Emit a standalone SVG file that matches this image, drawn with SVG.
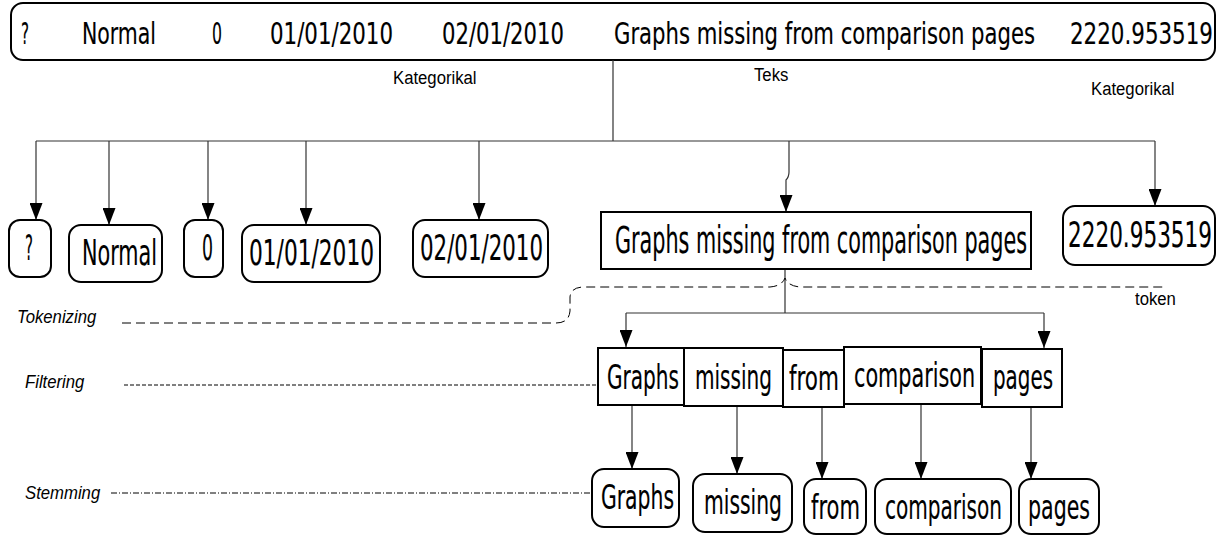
<svg xmlns="http://www.w3.org/2000/svg" width="1219" height="535" viewBox="0 0 1219 535">
<style>
.bx{fill:#fff;stroke:#000;stroke-width:2}
.t{font-family:"DejaVu Sans Condensed","DejaVu Sans",sans-serif;fill:#000;stroke:#000;stroke-width:0.15}
.lbl{font-family:"Liberation Sans",Arial,sans-serif;font-size:19px;fill:#000}
.it{font-style:italic}
.ln{fill:none;stroke:#333;stroke-width:1.2}
.ar{marker-end:url(#arr)}
.dash{fill:none;stroke:#000;stroke-width:1}
</style>
<defs>
<marker id="arr" markerUnits="userSpaceOnUse" markerWidth="17" markerHeight="13" refX="17" refY="6.5" orient="auto">
<path d="M0,0 L17,6.5 L0,13 z" fill="#000"/>
</marker>
</defs>
<rect width="1219" height="535" fill="#fff"/>

<g id="record">
<rect class="bx" x="11" y="3" width="1204" height="57" rx="12"/>
<g class="t" font-size="31">
<text transform="matrix(0.78 0 0 1 21 44)" textLength="10.3" lengthAdjust="spacingAndGlyphs">?</text>
<text transform="matrix(0.78 0 0 1 82 44)" textLength="94.9" lengthAdjust="spacingAndGlyphs">Normal</text>
<text transform="matrix(0.78 0 0 1 212 44)" textLength="12.8" lengthAdjust="spacingAndGlyphs">0</text>
<text transform="matrix(0.78 0 0 1 270 44)" textLength="157.7" lengthAdjust="spacingAndGlyphs">01/01/2010</text>
<text transform="matrix(0.78 0 0 1 442 44)" textLength="156.4" lengthAdjust="spacingAndGlyphs">02/01/2010</text>
<text transform="matrix(0.78 0 0 1 614 44)" textLength="539.7" lengthAdjust="spacingAndGlyphs">Graphs missing from comparison pages</text>
<text transform="matrix(0.78 0 0 1 1070 44)" textLength="183.3" lengthAdjust="spacingAndGlyphs">2220.953519</text>
</g>
</g>

<g id="labels">
<text class="lbl" transform="matrix(0.88 0 0 1 393 84)">Kategorikal</text>
<text class="lbl" transform="matrix(0.88 0 0 1 754 81)">Teks</text>
<text class="lbl" transform="matrix(0.88 0 0 1 1091 95)">Kategorikal</text>
<text class="lbl" transform="matrix(0.88 0 0 1 1135 305)">token</text>
<text class="lbl it" transform="matrix(0.88 0 0 1 17 323)">Tokenizing</text>
<text class="lbl it" transform="matrix(0.88 0 0 1 25 388)">Filtering</text>
<text class="lbl it" transform="matrix(0.88 0 0 1 25 499)">Stemming</text>
</g>

<g id="connectors">
<path class="ln" d="M613,60 V141 M36,141 H1155"/>
<path class="ln ar" d="M36,141 V220"/>
<path class="ln ar" d="M109,141 V225"/>
<path class="ln ar" d="M208,141 V220"/>
<path class="ln ar" d="M306,141 V225"/>
<path class="ln ar" d="M479,141 V220"/>
<path class="ln ar" d="M789,141 V172 Q789,177 786,180 V212"/>
<path class="ln ar" d="M1155,141 V206"/>
<path class="ln" d="M785,269 V313 M626,313 H1044"/>
<path class="ln ar" d="M626,313 V347"/>
<path class="ln ar" d="M1044,313 V348"/>
<path class="ln ar" d="M632,405 V469"/>
<path class="ln ar" d="M737,406 V474"/>
<path class="ln ar" d="M822,407 V479"/>
<path class="ln ar" d="M921,404 V479"/>
<path class="ln ar" d="M1031,407 V479"/>
<path class="dash" stroke-dasharray="9 5" d="M122,323 H556 Q569,323 570,311 V297 Q571,287 584,287 H770 Q782,286 785,278 Q788,286 800,287 H1165"/>
<path class="dash" stroke-dasharray="4 2" d="M124,385 H598"/>
<path class="dash" stroke-dasharray="6 2 1 2" d="M111,493 H592"/>
</g>

<g id="field-q">
<rect class="bx" x="9" y="220" width="42" height="57" rx="11"/>
<text class="t" font-size="36" transform="matrix(0.7 0 0 1 25 260)" textLength="11.4" lengthAdjust="spacingAndGlyphs">?</text>
</g>
<g id="field-normal">
<rect class="bx" x="69" y="225" width="93" height="57" rx="12"/>
<text class="t" font-size="36" transform="matrix(0.7 0 0 1 82 265)" textLength="107.1" lengthAdjust="spacingAndGlyphs">Normal</text>
</g>
<g id="field-zero">
<rect class="bx" x="184" y="220" width="39" height="57" rx="11"/>
<text class="t" font-size="36" transform="matrix(0.7 0 0 1 202 260)" textLength="15.7" lengthAdjust="spacingAndGlyphs">0</text>
</g>
<g id="field-date1">
<rect class="bx" x="242" y="225" width="138" height="57" rx="12"/>
<text class="t" font-size="36" transform="matrix(0.7 0 0 1 249 265)" textLength="178.6" lengthAdjust="spacingAndGlyphs">01/01/2010</text>
</g>
<g id="field-date2">
<rect class="bx" x="413" y="220" width="135" height="57" rx="12"/>
<text class="t" font-size="36" transform="matrix(0.7 0 0 1 420 260)" textLength="175.7" lengthAdjust="spacingAndGlyphs">02/01/2010</text>
</g>
<g id="field-text">
<rect class="bx" x="601" y="212" width="430" height="57"/>
<text class="t" font-size="37" transform="matrix(0.66 0 0 1 615 253)" textLength="624.2" lengthAdjust="spacingAndGlyphs">Graphs missing from comparison pages</text>
</g>
<g id="field-num">
<rect class="bx" x="1063" y="206" width="152" height="59" rx="12"/>
<text class="t" font-size="36" transform="matrix(0.7 0 0 1 1068 247)" textLength="205.7" lengthAdjust="spacingAndGlyphs">2220.953519</text>
</g>

<g id="tok-graphs">
<rect class="bx" x="598" y="348" width="86" height="57"/>
<text class="t" font-size="33" transform="matrix(0.7 0 0 1 607 389)" textLength="102.9" lengthAdjust="spacingAndGlyphs">Graphs</text>
</g>
<g id="tok-missing">
<rect class="bx" x="684" y="348" width="99" height="58"/>
<text class="t" font-size="33" transform="matrix(0.7 0 0 1 695 389)" textLength="110" lengthAdjust="spacingAndGlyphs">missing</text>
</g>
<g id="tok-from">
<rect class="bx" x="783" y="350" width="61" height="57"/>
<text class="t" font-size="33" transform="matrix(0.7 0 0 1 789 390)" textLength="71.4" lengthAdjust="spacingAndGlyphs">from</text>
</g>
<g id="tok-comparison">
<rect class="bx" x="844" y="347" width="137" height="57"/>
<text class="t" font-size="33" transform="matrix(0.7 0 0 1 854 387)" textLength="172.9" lengthAdjust="spacingAndGlyphs">comparison</text>
</g>
<g id="tok-pages">
<rect class="bx" x="982" y="349" width="80" height="58"/>
<text class="t" font-size="33" transform="matrix(0.7 0 0 1 993 389)" textLength="85.7" lengthAdjust="spacingAndGlyphs">pages</text>
</g>

<g id="stem-graphs">
<rect class="bx" x="592" y="469" width="87" height="58" rx="12"/>
<text class="t" font-size="33" transform="matrix(0.7 0 0 1 601 509)" textLength="104.3" lengthAdjust="spacingAndGlyphs">Graphs</text>
</g>
<g id="stem-missing">
<rect class="bx" x="693" y="474" width="99" height="58" rx="12"/>
<text class="t" font-size="33" transform="matrix(0.7 0 0 1 704 514)" textLength="111.4" lengthAdjust="spacingAndGlyphs">missing</text>
</g>
<g id="stem-from">
<rect class="bx" x="804" y="479" width="62" height="55" rx="12"/>
<text class="t" font-size="33" transform="matrix(0.7 0 0 1 811 519)" textLength="70" lengthAdjust="spacingAndGlyphs">from</text>
</g>
<g id="stem-comparison">
<rect class="bx" x="875" y="479" width="136" height="55" rx="12"/>
<text class="t" font-size="33" transform="matrix(0.7 0 0 1 885 519)" textLength="167.1" lengthAdjust="spacingAndGlyphs">comparison</text>
</g>
<g id="stem-pages">
<rect class="bx" x="1019" y="479" width="80" height="55" rx="12"/>
<text class="t" font-size="33" transform="matrix(0.7 0 0 1 1028 519)" textLength="88.6" lengthAdjust="spacingAndGlyphs">pages</text>
</g>
</svg>
